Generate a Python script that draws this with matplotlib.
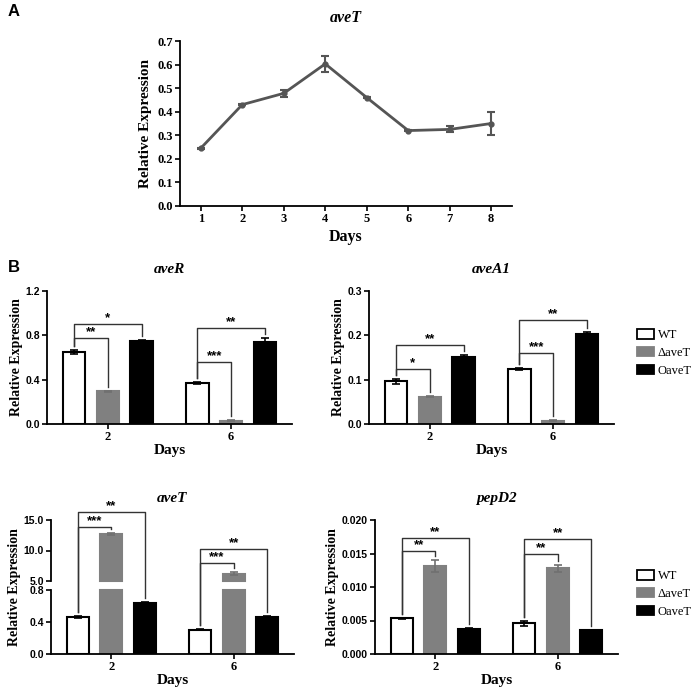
import numpy as np
import matplotlib
matplotlib.use("Agg")
import matplotlib.pyplot as plt
from matplotlib.patches import Patch
import matplotlib.transforms as mtransforms

SERIF = "Liberation Serif"
SANS = "Liberation Sans"
W, H = 696, 688

# Panel A: aveT over time
days_a = [1, 2, 3, 4, 5, 6, 7, 8]
avet_time = [0.245, 0.430, 0.478, 0.603, 0.460, 0.320, 0.325, 0.350]
avet_time_err = [0.003, 0.003, 0.015, 0.035, 0.003, 0.003, 0.013, 0.048]

# Panel B: three strains on day 2 and day 6
strains = ["WT", "\u0394aveT", "OaveT"]
group_days = ["2", "6"]

aver_mean = [[0.650, 0.295, 0.745], [0.370, 0.030, 0.740]]
aver_err = [[0.020, 0.003, 0.012], [0.006, 0.002, 0.040]]
aver_sig = [(0, 1, 0.776, "**"), (0, 2, 0.900, "*"), (1, 1, 0.560, "***"), (1, 2, 0.866, "**")]

avea1_mean = [[0.096, 0.062, 0.151], [0.124, 0.007, 0.203]]
avea1_err = [[0.005, 0.001, 0.004], [0.003, 0.001, 0.005]]
avea1_sig = [(0, 1, 0.124, "*"), (0, 2, 0.178, "**"), (1, 1, 0.160, "***"), (1, 2, 0.235, "**")]

avet_mean = [[0.465, 12.70, 0.640], [0.305, 6.20, 0.460]]
avet_err = [[0.010, 0.10, 0.008], [0.008, 0.20, 0.010]]
avet_sig = [(0, 1, 13.9, "***"), (0, 2, 16.3, "**"), (1, 1, 7.9, "***"), (1, 2, 10.2, "**")]

pepd2_mean = [[0.0053, 0.0132, 0.0038], [0.0046, 0.0128, 0.0036]]
pepd2_err = [[0.0001, 0.0009, 0.00005], [0.0004, 0.0005, 0.00005]]
pepd2_sig = [(0, 1, 0.01537, "**"), (0, 2, 0.0173, "**"), (1, 1, 0.0149, "**"), (1, 2, 0.01716, "**")]

bar_face = ["white", "#808080", "black"]
bar_edge = ["black", "#808080", "black"]
err_col = ["black", "#707070", "black"]

GROUP_GAP = 3.65
BAR_W = 0.66


def px_axes(fig, x0, y0, x1, y1):
    return fig.add_axes([x0 / W, 1 - y1 / H, (x1 - x0) / W, (y1 - y0) / H])


def style_axes(ax, tick_font):
    for s in ["top", "right"]:
        ax.spines[s].set_visible(False)
    for s in ["left", "bottom"]:
        ax.spines[s].set_linewidth(1.3)
    ax.tick_params(direction="out", length=3.5, width=1.2, pad=1.5)
    for lab in ax.get_yticklabels():
        lab.set_fontfamily(tick_font)
        lab.set_fontweight("bold")
        lab.set_fontsize(7.5 if tick_font == SANS else 9)
    for lab in ax.get_xticklabels():
        lab.set_fontfamily(SERIF)
        lab.set_fontweight("bold")
        lab.set_fontsize(9)


def bar_x(g, i):
    return g * GROUP_GAP + (i - 1)


def draw_bars(ax, means, errs, brk=None):
    for g in range(len(group_days)):
        for i in range(len(strains)):
            x = bar_x(g, i)
            m = means[g][i]
            if brk is not None and m > brk[1]:
                ax.bar(x, brk[0], width=BAR_W, color=bar_face[i], edgecolor=bar_edge[i],
                       linewidth=1.5, zorder=2)
                ax.bar(x, m - brk[1], bottom=brk[1], width=BAR_W, color=bar_face[i],
                       edgecolor=bar_edge[i], linewidth=1.5, zorder=2)
            else:
                ax.bar(x, m, width=BAR_W, color=bar_face[i], edgecolor=bar_edge[i],
                       linewidth=1.5, zorder=2)
            ax.errorbar(x, m, yerr=errs[g][i], fmt="none", ecolor=err_col[i],
                        elinewidth=1.2, capsize=3, capthick=1.2, zorder=3)


def lift(ax, x, y, pixels):
    # move a data point up by a number of pixels (works for any y scale)
    disp = ax.transData.transform((x, y))
    return ax.transData.inverted().transform((disp[0], disp[1] + pixels))[1]


def draw_brackets(ax, means, errs, sig):
    for g, j, h, label in sig:
        x1, x2 = bar_x(g, 0), bar_x(g, j)
        y1 = lift(ax, x1, means[g][0] + errs[g][0], 4)
        y2 = lift(ax, x2, means[g][j] + errs[g][j], 4)
        ax.plot([x1, x1, x2, x2], [y1, h, h, y2], color="#333333", lw=1.0,
                clip_on=False, zorder=4)
        ty = lift(ax, x1, h, 0)
        ax.text((x1 + x2) / 2, ty, label, ha="center", va="bottom", fontsize=9.5,
                fontfamily=SANS, fontweight="bold", clip_on=False)


def bar_panel(fig, box, title, means, errs, sig, ylim, yticks, yfmt, scale=None, brk=None):
    ax = px_axes(fig, *box)
    if scale is not None:
        ax.set_yscale("function", functions=scale)
    ax.set_xlim(-1.8, 5.45)
    ax.set_ylim(*ylim)
    ax.set_yticks(yticks)
    ax.set_yticklabels([yfmt.format(t) for t in yticks])
    ax.set_xticks([bar_x(g, 1) for g in range(len(group_days))])
    ax.set_xticklabels(group_days)
    draw_bars(ax, means, errs, brk)
    draw_brackets(ax, means, errs, sig)
    ax.set_title(title, fontfamily=SERIF, fontweight="bold", fontstyle="italic",
                 fontsize=11, pad=13)
    ax.set_xlabel("Days", fontfamily=SERIF, fontweight="bold", fontsize=11, labelpad=1)
    ax.set_ylabel("Relative Expression", fontfamily=SERIF, fontweight="bold",
                  fontsize=10, labelpad=2)
    style_axes(ax, SANS)
    return ax


# broken y axis for the bottom aveT panel: 0-0.8 and 5-15
def brk_fwd(v):
    v = np.asarray(v, dtype=float)
    return np.where(v <= 0.8, v / 0.8 * 64,
                    np.where(v <= 5.0, 64 + (v - 0.8) / 4.2 * 9, 73 + (v - 5.0) / 10 * 61))


def brk_inv(u):
    u = np.asarray(u, dtype=float)
    return np.where(u <= 64, u / 64 * 0.8,
                    np.where(u <= 73, 0.8 + (u - 64) / 9 * 4.2, 5.0 + (u - 73) / 61 * 10))


fig = plt.figure(figsize=(W / 100, H / 100), dpi=100)

# ---- Panel A
axa = px_axes(fig, 180, 41, 512, 206)
axa.errorbar(days_a, avet_time, yerr=avet_time_err, color="#555555", lw=2,
             marker="o", markersize=3.5, ecolor="#555555", elinewidth=1.5,
             capsize=3, capthick=1.5, clip_on=False, zorder=3)
axa.set_xlim(0.5, 8.5)
axa.set_ylim(0, 0.7)
axa.set_xticks(days_a)
axa.set_yticks(np.arange(0, 0.71, 0.1))
axa.set_yticklabels(["{:.1f}".format(t) for t in np.arange(0, 0.71, 0.1)])
axa.set_title("aveT", fontfamily=SERIF, fontweight="bold", fontstyle="italic",
              fontsize=11.5, pad=14)
axa.set_xlabel("Days", fontfamily=SERIF, fontweight="bold", fontsize=11.5, labelpad=3)
axa.set_ylabel("Relative Expression", fontfamily=SERIF, fontweight="bold",
               fontsize=11, labelpad=4)
style_axes(axa, SERIF)
for lab in axa.get_xticklabels() + axa.get_yticklabels():
    lab.set_fontsize(9)

# ---- Panel B
bar_panel(fig, (47, 291, 292, 424), "aveR", aver_mean, aver_err, aver_sig,
          (0, 1.2), [0, 0.4, 0.8, 1.2], "{:.1f}")
bar_panel(fig, (369, 291, 614, 424), "aveA1", avea1_mean, avea1_err, avea1_sig,
          (0, 0.3), [0, 0.1, 0.2, 0.3], "{:.1f}")
axt = bar_panel(fig, (51, 520, 294, 654), "aveT", avet_mean, avet_err, avet_sig,
                (0, 15), [0, 0.4, 0.8, 5, 10, 15], "{:.1f}",
                scale=(brk_fwd, brk_inv), brk=(0.8, 5.0))
axt.spines["left"].set_visible(False)
blend = mtransforms.blended_transform_factory(axt.transAxes, axt.transData)
for lo, hi in [(0, 0.8), (5.0, 15)]:
    axt.plot([0, 0], [lo, hi], color="black", lw=1.3, transform=blend,
             clip_on=False, zorder=5)
bar_panel(fig, (375, 520, 618, 654), "pepD2", pepd2_mean, pepd2_err, pepd2_sig,
          (0, 0.02), [0, 0.005, 0.010, 0.015, 0.020], "{:.3f}")

# legends
handles = [Patch(facecolor=bar_face[i], edgecolor="black" if i != 1 else "#808080",
                 linewidth=1.3) for i in range(3)]
for ytop in (329, 570):
    fig.legend(handles, strains, loc="upper left",
               bbox_to_anchor=(637 / W, 1 - ytop / H), frameon=False,
               prop={"family": SERIF, "size": 9}, handlelength=1.35,
               handleheight=0.8, labelspacing=0.45, handletextpad=0.3,
               borderaxespad=0, borderpad=0)

fig.text(8 / W, 1 - 12 / H, "A", fontfamily=SANS, fontweight="bold", fontsize=12,
         va="center", ha="left")
fig.text(8 / W, 1 - 268 / H, "B", fontfamily=SANS, fontweight="bold", fontsize=12,
         va="center", ha="left")

fig.savefig("out.png", dpi=100)
